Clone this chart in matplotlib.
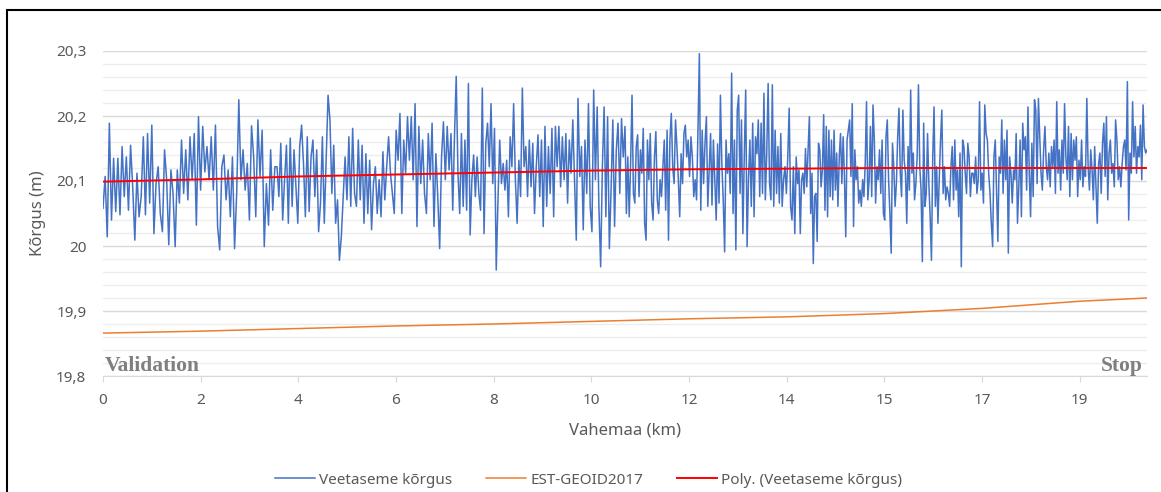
import numpy as np
import matplotlib
matplotlib.use('Agg')
import matplotlib.pyplot as plt
from matplotlib.patches import Rectangle

# category axis: one tick step per label, data runs a bit past the last tick
tick_labels = ["0", "2", "4", "6", "8", "10", "12", "14", "15", "17", "19"]
x_end = 10.69

# Veetaseme korgus (m) in six consecutive stretches
level_1 = [20.058, 20.107, 20.014, 20.189, 20.040, 20.135, 20.053, 20.135, 20.048, 20.153,
           20.076, 20.137, 20.055, 20.155, 20.091, 20.009, 20.112, 20.045, 20.076, 20.168,
           20.048, 20.173, 20.066, 20.186, 20.019, 20.096, 20.122, 20.050, 20.022, 20.148,
           20.102, 20.002, 20.117, 20.081, 19.999, 20.117, 20.066, 20.163, 20.081, 20.148,
           20.071, 20.168, 20.102, 20.173, 20.032, 20.199, 20.086, 20.184, 20.114, 20.153,
           20.102, 20.168, 20.086, 20.186, 20.030, 19.994, 20.122, 20.140, 20.071, 20.117,
           20.045, 20.137, 19.996, 20.081, 20.225, 20.102, 20.148, 20.086, 20.127, 20.040,
           20.185, 20.137, 20.045, 20.194, 20.107, 20.178, 19.999, 20.096, 20.032, 20.148,
           20.055, 20.122]
level_2 = [20.122, 20.076, 20.158, 20.040, 20.102, 20.155, 20.035, 20.166, 20.061, 20.148,
           20.091, 20.035, 20.153, 20.186, 20.127, 20.045, 20.168, 20.053, 20.137, 20.163,
           20.076, 20.148, 20.022, 20.066, 20.168, 20.035, 20.132, 20.232, 20.194, 20.081,
           20.155, 20.035, 20.071, 19.978, 20.014, 20.076, 20.137, 20.071, 20.168, 20.061,
           20.181, 20.081, 20.061, 20.163, 20.071, 20.155, 20.035, 20.142, 20.050, 20.132,
           20.025, 20.096, 20.122, 20.050, 20.102, 20.045, 20.145, 20.071, 20.122, 20.168,
           20.112, 20.081, 20.050, 20.178, 20.132, 20.204, 20.050, 20.163, 20.112, 20.199,
           20.132, 20.199, 20.102, 20.219, 20.030, 20.184, 20.096, 20.163, 20.081, 20.050,
           20.173, 20.102, 20.189, 20.030, 20.142, 20.076, 19.996, 20.137, 20.191, 20.102,
           20.184, 20.117]
level_3 = [20.173, 20.055, 20.168, 20.261, 20.112, 20.050, 20.173, 20.061, 20.163, 20.055,
           20.250, 20.017, 20.102, 20.140, 20.076, 20.137, 20.081, 20.055, 20.243, 20.019,
           20.158, 20.189, 20.122, 20.219, 20.096, 20.181, 19.963, 20.071, 20.163, 20.096,
           20.127, 20.086, 20.132, 20.045, 20.168, 20.122, 20.219, 20.102, 20.035, 20.132,
           20.076, 20.243, 20.122, 20.153, 20.076, 20.163, 20.091, 20.158, 20.050, 20.122,
           20.171, 20.076, 20.163, 20.030, 20.184, 20.061, 20.153, 20.081, 20.181, 20.045,
           20.184, 20.122, 20.184, 20.091, 20.168, 20.102, 20.173, 20.066, 20.163, 20.112,
           20.194, 20.102, 20.009, 20.227, 20.107, 20.153, 20.025, 20.163, 20.081, 20.219,
           20.061, 20.022, 20.240, 20.102, 20.214, 20.061, 19.968, 20.122, 20.214, 20.045,
           20.199, 19.996, 20.086, 20.194, 20.030, 20.148, 20.189, 20.081, 20.196, 20.137]
level_4 = [20.184, 20.050, 20.137, 20.045, 20.127, 20.232, 20.081, 20.066, 20.153, 20.171,
           20.076, 20.148, 20.112, 20.181, 20.035, 20.009, 20.163, 20.102, 20.173, 20.066,
           20.040, 20.137, 20.176, 20.071, 20.050, 20.102, 20.076, 20.122, 20.163, 20.055,
           20.178, 20.009, 20.163, 20.204, 20.122, 20.096, 20.194, 20.153, 20.102, 20.045,
           20.142, 20.096, 20.173, 20.186, 20.137, 20.163, 20.107, 20.168, 20.137, 20.076,
           20.102, 20.071, 20.178, 20.296, 20.055, 20.178, 20.096, 20.157, 20.199, 20.061,
           20.117, 20.173, 20.063, 20.163, 20.102, 20.040, 20.157, 20.066, 20.232, 20.127,
           20.071, 19.991, 20.163, 20.112, 20.142, 20.081, 20.266, 20.050, 20.163, 19.994,
           20.209, 20.232, 20.081, 20.194, 20.019, 20.137, 20.240, 19.999, 20.102, 20.163,
           20.061, 20.189, 20.045, 20.168, 20.142, 20.194, 20.076, 20.189, 20.081, 20.235,
           20.071, 20.142, 20.250, 20.096, 20.071, 20.248, 20.061, 20.178, 20.081, 20.153,
           20.066, 20.173, 20.061, 20.102, 20.122, 20.081, 20.137, 20.212, 20.061, 20.040,
           20.122, 20.019, 20.137, 20.096]
level_5 = [20.117, 20.019, 20.102, 20.112, 20.081, 20.150, 20.091, 20.148, 20.199, 20.050,
           20.112, 19.973, 20.076, 20.081, 20.007, 20.158, 20.148, 20.091, 20.117, 20.202,
           20.055, 20.184, 20.045, 20.178, 20.076, 20.163, 20.071, 20.178, 20.086, 20.143,
           20.061, 20.137, 20.173, 20.096, 20.168, 20.107, 20.014, 20.163, 20.178, 20.194,
           20.107, 20.219, 20.030, 20.148, 20.102, 20.122, 20.066, 20.086, 20.061, 20.102,
           20.076, 20.127, 20.222, 20.071, 20.102, 20.184, 20.076, 20.217, 20.163, 20.066,
           20.122, 20.102, 20.148, 20.081, 20.163, 20.050, 20.040, 20.168, 20.194, 20.102,
           20.050, 19.989, 20.158, 20.122, 20.061, 20.096, 20.168, 20.212, 20.112, 20.076,
           20.209, 20.132, 20.112, 20.035, 20.153, 20.086, 20.240, 20.112, 20.143, 20.071,
           20.096, 20.137, 20.248, 20.122, 20.086, 19.976, 20.189, 20.061, 20.081, 20.173,
           20.096, 20.045, 19.978, 20.137, 20.214, 20.061, 20.122, 20.035, 20.102, 20.163,
           20.209, 20.081, 20.122, 20.071, 20.091, 20.081, 20.061, 20.122, 20.153, 20.071,
           20.163, 20.086, 20.117, 20.045, 20.143, 19.968, 20.163, 20.153, 20.112, 20.081,
           20.158, 20.137, 20.076, 20.112]
level_6 = [20.112, 20.096, 20.137, 20.081, 20.102, 20.222, 20.086, 20.112, 20.066, 20.217,
           20.173, 20.163, 20.112, 20.081, 20.035, 19.999, 20.137, 20.163, 20.086, 20.007,
           20.137, 20.112, 20.194, 20.081, 20.163, 20.102, 20.178, 19.989, 20.137, 20.112,
           20.066, 20.117, 20.102, 20.173, 20.035, 20.091, 20.163, 20.045, 20.189, 20.148,
           20.168, 20.086, 20.214, 20.112, 20.045, 20.158, 20.076, 20.225, 20.209, 20.096,
           20.227, 20.168, 20.112, 20.086, 20.148, 20.184, 20.122, 20.102, 20.143, 20.091,
           20.153, 20.122, 20.163, 20.081, 20.222, 20.112, 20.148, 20.086, 20.163, 20.112,
           20.219, 20.137, 20.102, 20.184, 20.076, 20.173, 20.102, 20.163, 20.132, 20.168,
           20.076, 20.132, 20.102, 20.163, 20.091, 20.122, 20.107, 20.227, 20.122, 20.086,
           20.148, 20.117, 20.071, 20.153, 20.091, 20.035, 20.127, 20.143, 20.081, 20.158,
           20.189, 20.107, 20.199, 20.071, 20.143, 20.163, 20.112, 20.127, 20.091, 20.194,
           20.163, 20.102, 20.122, 20.091, 20.127, 20.153, 20.163, 20.117, 20.253, 20.040,
           20.143, 20.112, 20.222, 20.137, 20.184, 20.112, 20.153, 20.137, 20.186, 20.102,
           20.217, 20.153, 20.143, 20.148]

# EST-GEOID2017 and polynomial trend, read at every tick and at the right end
geoid = [19.866, 19.869, 19.873, 19.877, 19.880, 19.884, 19.888, 19.891, 19.896, 19.904, 19.915, 19.920]
trend = [20.099, 20.1025, 20.107, 20.110, 20.113, 20.116, 20.118, 20.119, 20.120, 20.120, 20.120, 20.120]

plt.rcParams['font.family'] = ['Noto Sans', 'DejaVu Sans']
grey = '#595959'

fig = plt.figure(figsize=(11.61, 4.92), dpi=100)
ax = fig.add_axes([103 / 1161, 1 - 376 / 492, 1044 / 1161, 325 / 492])

segments = [level_1, level_2, level_3, level_4, level_5, level_6]
edges = np.linspace(0, x_end, len(segments) + 1)
xs = [np.linspace(edges[i], edges[i + 1], len(s), endpoint=(i == len(segments) - 1))
      for i, s in enumerate(segments)]
x_level = np.concatenate(xs)
y_level = np.concatenate(segments)
x_ticks = np.r_[np.arange(len(tick_labels)), x_end]

ax.plot(x_level, y_level, color='#4472C4', lw=1.1, label='Veetaseme kõrgus', zorder=3)
ax.plot(x_ticks, geoid, color='#ED7D31', lw=1.1, label='EST-GEOID2017', zorder=4)
ax.plot(x_ticks, trend, color='#FF0000', lw=1.4, label='Poly. (Veetaseme kõrgus)', zorder=5)

ax.set_xlim(0, x_end)
ax.set_ylim(19.8, 20.3)
ax.set_yticks([19.8, 19.9, 20.0, 20.1, 20.2, 20.3])
ax.set_yticklabels(['19,8', '19,9', '20', '20,1', '20,2', '20,3'])
ax.set_yticks(np.arange(19.8, 20.301, 0.02), minor=True)
ax.grid(which='major', axis='y', color='#d9d9d9', lw=1)
ax.grid(which='minor', axis='y', color='#ededed', lw=1)
ax.set_axisbelow(True)
ax.set_xticks(range(len(tick_labels)))
ax.set_xticklabels(tick_labels)

for s in ['left', 'right', 'top']:
    ax.spines[s].set_visible(False)
ax.spines['bottom'].set_color('#d9d9d9')
ax.tick_params(axis='y', which='both', length=0, pad=12, labelsize=11, labelcolor=grey)
ax.tick_params(axis='x', length=4, color='#d9d9d9', pad=8, labelsize=11, labelcolor=grey)

ax.set_ylabel('Kõrgus (m)', fontsize=12, color=grey, va='center')
ax.yaxis.set_label_coords(-0.0623, 0.5)
ax.set_xlabel('Vahemaa (km)', fontsize=12, color=grey, va='center')
ax.xaxis.set_label_coords(0.5, -0.169)

ax.text(0.02, 19.815, 'Validation', family='Liberation Serif', fontweight='bold',
        fontsize=15.5, color='#7f7f7f', va='center', ha='left')
ax.text(10.645, 19.815, 'Stop', family='Liberation Serif', fontweight='bold',
        fontsize=15.5, color='#7f7f7f', va='center', ha='right')

fig.legend(loc='center', bbox_to_anchor=(0.507, 0.024), ncol=3, frameon=False,
           fontsize=11, labelcolor=grey, handlelength=2.6, handletextpad=0.3,
           columnspacing=2.2)

fig.add_artist(Rectangle((7 / 1161, -0.1), 1.2, 1.1 - 10 / 492, transform=fig.transFigure,
                         fill=False, lw=1.5, ec='black'))

plt.savefig('out.png', dpi=100)
